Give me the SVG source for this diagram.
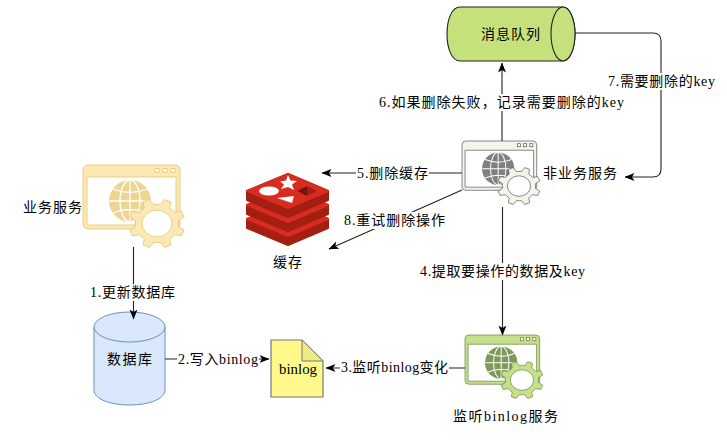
<svg xmlns="http://www.w3.org/2000/svg" xmlns:xlink="http://www.w3.org/1999/xlink" width="727" height="440" viewBox="0 0 727 440">
<style>
text{font-family:"Liberation Serif","Noto Sans CJK SC",serif;font-size:14px;fill:#000}
.bg{fill:#fff;stroke:none}
.line{fill:none;stroke:#222;stroke-width:1.1;marker-end:url(#arr)}
.yellow{--f:#fce8b2;--s:#e6c97e;--g:#efd592}
.gray{--f:#f6f3ea;--s:#555;--g:#808080}
.green{--f:#c4e08a;--s:#66813f;--g:#7d9a58}
.fr{fill:var(--f);stroke:var(--s);stroke-width:.9}
.sq{fill:#fff;stroke:var(--s);stroke-width:.9}
.gl{fill:none;stroke:#fff;stroke-width:1.3}
</style>
<defs>
<marker id="arr" markerUnits="userSpaceOnUse" markerWidth="10" markerHeight="9" viewBox="0 0 10 8" refX="9.5" refY="4" orient="auto">
<path d="M0 0L10 4L0 8L2.5 4Z" fill="#000"/>
</marker>
<g id="icon">
<path class="fr" fill-rule="evenodd" d="M5 0H92A5 5 0 0 1 97 5V59A5 5 0 0 1 92 64H5A5 5 0 0 1 0 59V5A5 5 0 0 1 5 0ZM4 12V60H93V12Z"/>
<rect class="sq" x="72" y="3.5" width="4" height="4"/><rect class="sq" x="80" y="3.500" width="4" height="4"/><rect class="sq" x="88" y="3.500" width="4" height="4"/>
<circle cx="47" cy="36" r="21" fill="var(--g)"/>
<g class="gl"><ellipse cx="47" cy="36" rx="10" ry="21"/><path d="M47 15V57M26.500 36H67.500M30 24Q47 31 64 24M30 48Q47 41 64 48"/></g>
<g transform="translate(74 58.500) scale(1.040 .920)">
<circle r="16" fill="#fff"/>
<path class="fr" fill-rule="evenodd" d="M20.700 3.500L26 7.200L23.500 13.300L17.100 12.200L12.200 17.100L13.300 23.500L7.200 26L3.500 20.700L-3.500 20.700L-7.200 26L-13.300 23.500L-12.200 17.100L-17.100 12.200L-23.500 13.300L-26 7.200L-20.700 3.500L-20.700 -3.500L-26 -7.200L-23.500 -13.300L-17.100 -12.200L-12.200 -17.100L-13.300 -23.500L-7.200 -26L-3.500 -20.700L3.500 -20.700L7.200 -26L13.300 -23.500L12.200 -17.100L17.100 -12.200L23.500 -13.300L26 -7.200L20.700 -3.500ZM14.500 0A14.500 14.500 0 1 0 -14.500 0A14.500 14.500 0 1 0 14.500 0Z"/>
</g>
</g>
</defs>
<rect width="727" height="440" fill="#fff"/>

<g id="biz-service" class="yellow">
<use xlink:href="#icon" href="#icon" transform="translate(83 165)"/>
<text x="23" y="212" textLength="59" lengthAdjust="spacing">业务服务</text>
</g>
<g id="database">
<path d="M94 327V390C94 399 110 405 129.500 405S165 399 165 390V327Z" fill="#dae8fc" stroke="#6c8ebf" stroke-width="1"/>
<ellipse cx="129.500" cy="327" rx="35.500" ry="15" fill="#dae8fc" stroke="#6c8ebf" stroke-width="1"/>
<text x="107" y="364" textLength="45" lengthAdjust="spacing">数据库</text>
</g>
<g id="binlog-file">
<path d="M271 340H302L323 361V397H271Z" fill="#fff88a" stroke="#777" stroke-width="1.200"/>
<path d="M302 340V361H323Z" fill="#ecec80" stroke="#777" stroke-width="1"/>
<text x="279" y="374" style="font-size:15px" textLength="38" lengthAdjust="spacingAndGlyphs">binlog</text>
</g>
<g id="binlog-service" class="green">
<use xlink:href="#icon" href="#icon" transform="translate(465 335) scale(.77)"/>
<text x="453" y="421" textLength="105" lengthAdjust="spacing">监听binlog服务</text>
</g>
<g id="nonbiz-service" class="gray">
<use xlink:href="#icon" href="#icon" transform="translate(462 141) scale(.77)"/>
<text x="543" y="178" textLength="74" lengthAdjust="spacing">非业务服务</text>
</g>
<g id="queue">
<path d="M460 7H563A12 27 0 0 1 563 61H460C452 61 447 49 447 34S452 7 460 7Z" fill="#c5e17b" stroke="#222" stroke-width="1.100"/>
<ellipse cx="563" cy="34" rx="12" ry="27" fill="#c5e17b" stroke="#222" stroke-width="1.100"/>
<text x="481" y="39" textLength="59" lengthAdjust="spacing">消息队列</text>
</g>
<g id="cache">
<g stroke-linejoin="round" stroke-width="2">
<path d="M247 219L288 201L328 219V228L288 245L247 228Z" fill="#a41e11" stroke="#a41e11"/>
<path d="M247 219L288 201L328 219L288 236Z" fill="#d82c20" stroke="#d82c20"/>
<path d="M247 205L288 187L328 205V214L288 231L247 214Z" fill="#a41e11" stroke="#a41e11"/>
<path d="M247 205L288 187L328 205L288 222Z" fill="#d82c20" stroke="#d82c20"/>
<path d="M247 191L288 174L328 191V200L288 217L247 200Z" fill="#a41e11" stroke="#a41e11"/>
<path d="M247 191L288 174L328 191L288 208Z" fill="#d82c20" stroke="#d82c20"/>
</g>
<ellipse cx="269" cy="191" rx="10" ry="4.500" fill="#fff"/>
<path d="M288 175L290.500 180.500L297 181L292 184.500L294 190L288 187L281 189L284 184.500L280 181.500L286 180.500Z" fill="#fff"/>
<path d="M277 198L294 196L292 203Z" fill="#fff"/>
<path d="M297 191L307 186V196Z" fill="#7a1209"/>
<path d="M307 186L317 191L307 196Z" fill="#a41e11"/>
<text x="273" y="267" textLength="29" lengthAdjust="spacing">缓存</text>
</g>

<g id="connectors">
<path class="line" d="M133.500 247V319"/>
<path class="line" d="M165 359H269"/>
<path class="line" d="M465 368H326"/>
<path class="line" d="M502.500 207V335"/>
<path class="line" d="M462 173H322"/>
<path class="line" d="M462 190L329 249"/>
<path class="line" d="M502 141V63"/>
<path class="line" d="M575 33H653Q661 33 661 41V169Q661 177 653 177H625"/>
<g id="connector-labels">
<rect class="bg" x="88" y="284" width="89" height="17"/><text x="90" y="297" textLength="85" lengthAdjust="spacing">1.更新数据库</text>
<rect class="bg" x="177" y="352" width="82" height="16"/><text x="178" y="364" textLength="80" lengthAdjust="spacing">2.写入binlog</text>
<rect class="bg" x="340" y="360" width="109" height="16"/><text x="341" y="372" textLength="107" lengthAdjust="spacing">3.监听binlog变化</text>
<rect class="bg" x="418" y="263" width="169" height="17"/><text x="420" y="276" textLength="165" lengthAdjust="spacing">4.提取要操作的数据及key</text>
<rect class="bg" x="356" y="165" width="73" height="17"/><text x="357" y="178" textLength="71" lengthAdjust="spacing">5.删除缓存</text>
<rect class="bg" x="378" y="94" width="247" height="17"/><text x="379" y="107" textLength="245" lengthAdjust="spacing">6.如果删除失败，记录需要删除的key</text>
<rect class="bg" x="607" y="73" width="109" height="17"/><text x="608" y="86" textLength="107" lengthAdjust="spacing">7.需要删除的key</text>
<rect class="bg" x="343" y="212" width="103" height="17"/><text x="344" y="225" textLength="101" lengthAdjust="spacing">8.重试删除操作</text>
</g>
</g>
</svg>
